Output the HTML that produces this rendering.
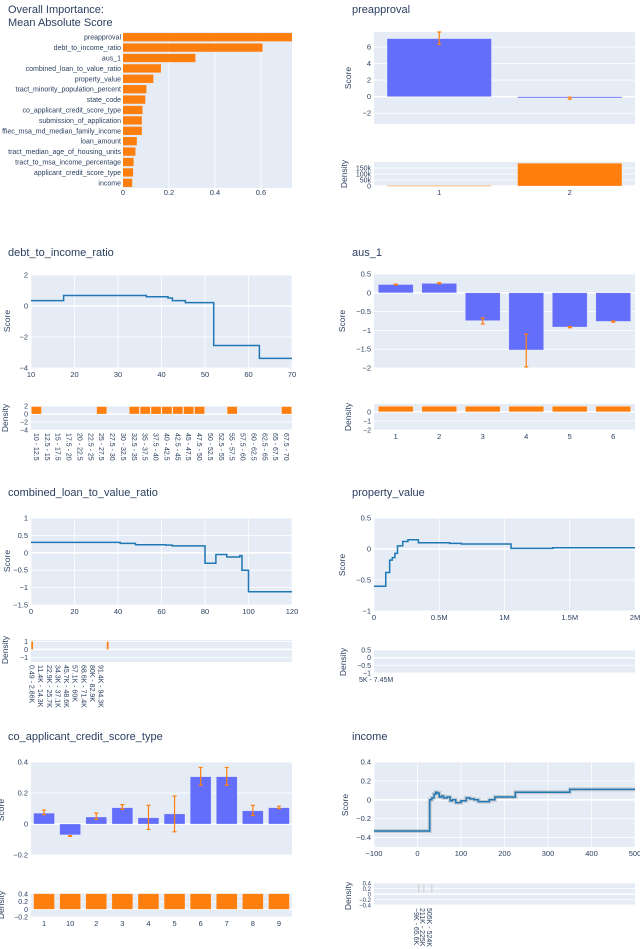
<!DOCTYPE html>
<html><head><meta charset="utf-8">
<style>
body{margin:0;background:#fff;}
svg{display:block;font-family:"Liberation Sans","DejaVu Sans",sans-serif;}
</style></head>
<body>
<svg id="c" width="640" height="949" viewBox="0 0 640 949" xmlns="http://www.w3.org/2000/svg"></svg>
<script>
// ---------- DATA ----------
const impFeatures=["preapproval","debt_to_income_ratio","aus_1","combined_loan_to_value_ratio","property_value","tract_minority_population_percent","state_code","co_applicant_credit_score_type","submission_of_application","ffiec_msa_md_median_family_income","loan_amount","tract_median_age_of_housing_units","tract_to_msa_income_percentage","applicant_credit_score_type","income"];
const impValues=[0.735,0.607,0.315,0.165,0.132,0.102,0.097,0.085,0.082,0.082,0.06,0.054,0.046,0.044,0.04];
const impTicks=[0,0.2,0.4,0.6];

const preCats=["1","2"];
const preScores=[7.0,-0.15];
const preErrLo=[6.3,-0.3];
const preErrHi=[7.8,-0.05];
const preDensity=[4000,190000];
const preDensTicks=[0,50000,100000,150000];
const preDensLabels=["0","50k","100k","150k"];
const preScoreTicks=[-2,0,2,4,6];

const dtiEdges=[10,17.5,36.5,41.5,42.5,45.5,52,62.5,70];
const dtiValues=[0.35,0.68,0.6,0.52,0.35,0.22,-2.55,-3.38];
const dtiXTicks=[10,20,30,40,50,60,70];
const dtiYTicks=[-4,-2,0,2];
const dtiCats=["10 - 12.5","12.5 - 15","15 - 17.5","17.5 - 20","20 - 22.5","22.5 - 25","25 - 27.5","27.5 - 30","30 - 32.5","32.5 - 35","35 - 37.5","37.5 - 40","40 - 42.5","42.5 - 45","45 - 47.5","47.5 - 50","50 - 52.5","52.5 - 55","55 - 57.5","57.5 - 60","60 - 62.5","62.5 - 65","65 - 67.5","67.5 - 70"];
const dtiDensity=[1.85,0,0,0,0,0,1.85,0,0,1.85,1.85,1.85,1.85,1.85,1.85,1.85,0,0,1.85,0,0,0,0,1.85];
const dtiDensTicks=[-4,-2,0,2];

const ausCats=["1","2","3","4","5","6"];
const ausScores=[0.22,0.25,-0.74,-1.52,-0.91,-0.76];
const ausErrLo=[0.21,0.24,-0.83,-1.97,-0.93,-0.78];
const ausErrHi=[0.23,0.27,-0.67,-1.1,-0.9,-0.75];
const ausDensity=[0.6,0.6,0.6,0.6,0.6,0.6];
const ausYTicks=[-2,-1.5,-1,-0.5,0,0.5];
const ausDensTicks=[-2,-1,0];

const cltvEdges=[0,41,48,62,65,80,85,90,96,97,100,120];
const cltvValues=[0.3,0.27,0.23,0.22,0.2,-0.3,-0.05,-0.12,-0.08,-0.5,-1.12];
const cltvXTicks=[0,20,40,60,80,100,120];
const cltvYTicks=[-1.5,-1,-0.5,0,0.5,1];
const cltvDensIdx=[0,35];
const cltvDensity=[1,1];
const cltvCatLabels=["0.49 - 2.86K","11.4K - 14.3K","22.9K - 25.7K","34.3K - 37.1K","45.7K - 48.6K","57.1K - 60K","68.6K - 71.4K","80K - 82.9K","91.4K - 94.3K"];
const cltvDensTicks=[-1,0,1];

const pvEdges=[0,0.09,0.12,0.14,0.16,0.18,0.22,0.26,0.34,0.58,0.67,1.05,1.37,2.0];
const pvValues=[-0.6,-0.38,-0.18,-0.14,-0.07,0.05,0.12,0.15,0.1,0.09,0.08,0.01,0.02];
const pvXTicks=[0,0.5,1,1.5,2];
const pvXLabels=["0","0.5M","1M","1.5M","2M"];
const pvYTicks=[-1,-0.5,0,0.5];
const pvDensTicks=[-1,-0.5,0,0.5];

const coCats=["1","10","2","3","4","5","6","7","8","9"];
const coScores=[0.07,-0.07,0.045,0.105,0.04,0.065,0.305,0.305,0.085,0.105];
const coErrLo=[0.06,-0.08,0.03,0.095,-0.035,-0.05,0.25,0.25,0.055,0.1];
const coErrHi=[0.09,-0.075,0.07,0.125,0.12,0.18,0.365,0.365,0.12,0.115];
const coDensity=[0.4,0.4,0.4,0.4,0.4,0.4,0.4,0.4,0.4,0.4];
const coYTicks=[-0.2,0,0.2,0.4];
const coDensTicks=[-0.2,0,0.2,0.4];

const incEdges=[-100,28,33,38,42,45,50,55,60,68,75,80,88,100,112,120,130,140,165,178,225,350,500];
const incValues=[-0.33,0.0,0.02,0.06,0.08,0.07,0.03,0.04,0.02,0.03,-0.01,0.0,-0.03,-0.01,0.02,0.01,0.0,-0.02,0.0,0.03,0.08,0.11];
const incXTicks=[-100,0,100,200,300,400,500];
const incYTicks=[-0.4,-0.2,0,0.2,0.4];
const incDensLabels=["−9K - 65.6K","211K - 225K","505K - 524K"];
const incDensTicks=[-0.4,-0.2,0,0.2,0.4];

// ---------- HELPERS ----------
const NS="http://www.w3.org/2000/svg";
const svg=document.getElementById('c');
const TXT="#2a3f5f", BG="#E5ECF6", BLUE="#636efa", ORANGE="#ff7f0e", LINE="#1f77b4";
function el(tag,attrs,parent){const e=document.createElementNS(NS,tag);for(const k in attrs)e.setAttribute(k,attrs[k]);(parent||svg).appendChild(e);return e;}
function lin(d0,d1,r0,r1){return v=>r0+(v-d0)*(r1-r0)/(d1-d0);}
function fmt(v){return (v<0?"−":"")+String(Math.abs(Math.round(v*100)/100));}
function txt(x,y,s,size,anchor,name,parent){const t=el('text',{x:x,y:y,'font-size':size,fill:TXT,'text-anchor':anchor||'start'},parent);t.textContent=s;return t;}
function panel(x0,y0,x1,y1,name){const g=el('g',{});el('rect',{x:x0,y:y0,width:x1-x0,height:y1-y0,fill:BG},g);return g;}
function yAxis(g,sy,ticks,x0,x1,labels,size){ticks.forEach((t,i)=>{const y=sy(t);el('line',{x1:x0,x2:x1,y1:y,y2:y,stroke:'#fff','stroke-width':t===0?1.6:0.8},g);txt(x0-3,y+2.5,labels?labels[i]:fmt(t),size||7.5,'end','y-tick-label',g);});}
function xAxis(g,sx,ticks,y0,y1,labels){ticks.forEach((t,i)=>{const x=sx(t);el('line',{x1:x,x2:x,y1:y0,y2:y1,stroke:'#fff','stroke-width':0.8},g);txt(x,y1+9,labels?labels[i]:fmt(t),7.5,'middle','x-tick-label',g);});}
function ytitle(x,y,s){const t=el('text',{x:0,y:0,'font-size':8.5,fill:TXT,'text-anchor':'middle',transform:`translate(${x},${y}) rotate(-90)`});t.textContent=s;}
function title(x,y,s,name){txt(x,y,s,11,'start',name||'chart-title');}
function steps(g,edges,vals,sx,sy,name,band){let d=`M${sx(edges[0])},${sy(vals[0])}`;for(let i=0;i<vals.length;i++){d+=` H${sx(edges[i+1])}`;if(i+1<vals.length)d+=` V${sy(vals[i+1])}`;}
 if(band){const b=el('path',{d:d,fill:'none',stroke:'rgba(140,140,140,0.35)','stroke-width':4},g);}
 const p=el('path',{d:d,fill:'none',stroke:LINE,'stroke-width':1.5},g);}
function bars(g,n,vals,x0,x1,sy,color,frac,name){const w=(x1-x0)/n;vals.forEach((v,i)=>{if(v===0)return;const cx=x0+w*(i+0.5),bw=w*frac;const y=Math.min(sy(v),sy(0)),h=Math.abs(sy(v)-sy(0));const r=el('rect',{x:cx-bw/2,y:y,width:bw,height:Math.max(h,0.8),fill:color,stroke:'rgba(255,255,255,0.5)','stroke-width':0.5},g);});}
function errs(g,n,lo,hi,x0,x1,sy){const w=(x1-x0)/n;lo.forEach((l,i)=>{const cx=x0+w*(i+0.5);const e=el('path',{d:`M${cx},${sy(l)}V${sy(hi[i])}M${cx-2},${sy(l)}H${cx+2}M${cx-2},${sy(hi[i])}H${cx+2}`,stroke:ORANGE,'stroke-width':1.2,fill:'none'},g);});}
function catLabels(g,n,labels,x0,x1,y,rot,idx){const w=(x1-x0)/n;labels.forEach((s,i)=>{const k=idx?idx[i]:i;const cx=x0+w*(k+0.5);if(rot){const t=el('text',{x:0,y:0,'font-size':7,fill:TXT,transform:`translate(${cx-2.5},${y}) rotate(90)`},g);t.textContent=s;}else txt(cx,y+9,s,7.5,'middle','category-label',g);});}

// ---------- OVERALL IMPORTANCE ----------
title(8,13,"Overall Importance:","importance-title");
title(8,26,"Mean Absolute Score","importance-subtitle");
(function(){const x0=123,x1=292,y0=32,y1=188;const g=panel(x0,y0,x1,y1,'importance-chart');const sx=lin(0,0.735,x0,x1);
 impTicks.forEach(t=>{if(t>0)el('line',{x1:sx(t),x2:sx(t),y1:y0,y2:y1,stroke:'#fff','stroke-width':0.8},g);txt(sx(t),y1+7,fmt(t),7.5,'middle','x-tick-label',g);});
 const rh=(y1-y0)/impFeatures.length;
 impFeatures.forEach((f,i)=>{const cy=y0+rh*(i+0.5);const r=el('rect',{x:x0,y:cy-rh*0.4,width:sx(impValues[i])-x0,height:rh*0.8,fill:ORANGE},g);txt(x0-2,cy+2.5,f,7,'end','feature-label',g);});
})();

// ---------- PREAPPROVAL ----------
title(352,13,"preapproval","preapproval-title");
(function(){const x0=374,x1=635,y0=32,y1=124;const g=panel(x0,y0,x1,y1,'preapproval-score-chart');const sy=lin(7.8,-3.3,y0,y1);
 yAxis(g,sy,preScoreTicks,x0,x1);bars(g,2,preScores,x0,x1,sy,BLUE,0.8,'preapproval-bar');errs(g,2,preErrLo,preErrHi,x0,x1,sy);ytitle(351,78,"Score");
 const d0=162,d1=186;const gd=panel(x0,d0,x1,d1,'preapproval-density-chart');const sd=lin(200000,0,d0,d1);
 yAxis(gd,sd,preDensTicks,x0,x1,preDensLabels,7);bars(gd,2,preDensity,x0,x1,sd,ORANGE,0.8,'preapproval-density-bar');catLabels(gd,2,preCats,x0,x1,d1);ytitle(347,174,"Density");
})();

// ---------- DEBT TO INCOME ----------
title(8,256,"debt_to_income_ratio","dti-title");
(function(){const x0=31,x1=292,y0=275,y1=368;const g=panel(x0,y0,x1,y1,'dti-score-chart');const sx=lin(10,70,x0,x1),sy=lin(2,-4,y0,y1);
 xAxis(g,sx,dtiXTicks,y0,y1);yAxis(g,sy,dtiYTicks,x0,x1);steps(g,dtiEdges,dtiValues,sx,sy,'dti-score-line');ytitle(10,321,"Score");
 const d0=406,d1=430;const gd=panel(x0,d0,x1,d1,'dti-density-chart');const sd=lin(2,-4,d0,d1);
 yAxis(gd,sd,dtiDensTicks,x0,x1,null,7);bars(gd,24,dtiDensity,x0,x1,sd,ORANGE,0.92,'dti-density-bar');catLabels(gd,24,dtiCats,x0,x1,d1+3,true);ytitle(8,418,"Density");
})();

// ---------- AUS_1 ----------
title(352,256,"aus_1","aus-title");
(function(){const x0=374,x1=635,y0=274,y1=368;const g=panel(x0,y0,x1,y1,'aus-score-chart');const sy=lin(0.5,-2,y0,y1);
 yAxis(g,sy,ausYTicks,x0,x1);bars(g,6,ausScores,x0,x1,sy,BLUE,0.8,'aus-bar');errs(g,6,ausErrLo,ausErrHi,x0,x1,sy);ytitle(345,321,"Score");
 const d0=404,d1=430;const gd=panel(x0,d0,x1,d1,'aus-density-chart');const sd=lin(0.85,-2,d0,d1);
 yAxis(gd,sd,ausDensTicks,x0,x1,null,7);bars(gd,6,ausDensity,x0,x1,sd,ORANGE,0.8,'aus-density-bar');catLabels(gd,6,ausCats,x0,x1,d1);ytitle(351,417,"Density");
})();

// ---------- COMBINED LOAN TO VALUE ----------
title(8,496,"combined_loan_to_value_ratio","cltv-title");
(function(){const x0=31,x1=292,y0=518,y1=605;const g=panel(x0,y0,x1,y1,'cltv-score-chart');const sx=lin(0,120,x0,x1),sy=lin(1,-1.5,y0,y1);
 xAxis(g,sx,cltvXTicks,y0,y1);yAxis(g,sy,cltvYTicks,x0,x1);steps(g,cltvEdges,cltvValues,sx,sy,'cltv-score-line');ytitle(10,561,"Score");
 const d0=640,d1=662;const gd=panel(x0,d0,x1,d1,'cltv-density-chart');const sd=lin(1.2,-1.6,d0,d1);
 yAxis(gd,sd,cltvDensTicks,x0,x1,null,7);const n=121,w=(x1-x0)/n;
 cltvDensIdx.forEach((k,i)=>{const r=el('rect',{x:x0+w*k+0.3,y:sd(cltvDensity[i]),width:w*0.8,height:sd(0)-sd(cltvDensity[i]),fill:ORANGE},gd);});
 catLabels(gd,n,cltvCatLabels,x0,x1,d1+3,true,[0,4,8,12,16,20,24,28,32]);ytitle(8,650,"Density");
})();

// ---------- PROPERTY VALUE ----------
title(352,496,"property_value","property-value-title");
(function(){const x0=374,x1=635,y0=518,y1=611;const g=panel(x0,y0,x1,y1,'property-score-chart');const sx=lin(0,2,x0,x1),sy=lin(0.5,-1,y0,y1);
 xAxis(g,sx,pvXTicks,y0,y1,pvXLabels);yAxis(g,sy,pvYTicks,x0,x1);steps(g,pvEdges,pvValues,sx,sy,'property-score-line');ytitle(345,565,"Score");
 const d0=650,d1=673;const gd=panel(x0,d0,x1,d1,'property-density-chart');const sd=lin(0.5,-1,d0,d1);
 yAxis(gd,sd,pvDensTicks,x0,x1,null,7);txt(359,682,"5K - 7.45M",7,'start','category-label',gd);ytitle(346,662,"Density");
})();

// ---------- CO-APPLICANT ----------
title(8,740,"co_applicant_credit_score_type","co-applicant-title");
(function(){const x0=31,x1=292,y0=762,y1=855;const g=panel(x0,y0,x1,y1,'co-applicant-score-chart');const sy=lin(0.4,-0.2,y0,y1);
 yAxis(g,sy,coYTicks,x0,x1);bars(g,10,coScores,x0,x1,sy,BLUE,0.8,'co-applicant-bar');errs(g,10,coErrLo,coErrHi,x0,x1,sy);ytitle(4,810,"Score");
 const d0=893,d1=917;const gd=panel(x0,d0,x1,d1,'co-applicant-density-chart');const sd=lin(0.42,-0.2,d0,d1);
 yAxis(gd,sd,coDensTicks,x0,x1,null,7);bars(gd,10,coDensity,x0,x1,sd,ORANGE,0.8,'co-applicant-density-bar');catLabels(gd,10,coCats,x0,x1,d1);ytitle(4,905,"Density");
})();

// ---------- INCOME ----------
title(352,740,"income","income-title");
(function(){const x0=374,x1=635,y0=762,y1=847;const g=panel(x0,y0,x1,y1,'income-score-chart');const sx=lin(-100,500,x0,x1),sy=lin(0.4,-0.5,y0,y1);
 xAxis(g,sx,incXTicks,y0,y1);yAxis(g,sy,incYTicks,x0,x1);steps(g,incEdges,incValues,sx,sy,'income-score-line',true);ytitle(348,805,"Score");
 const d0=883,d1=905;const gd=panel(x0,d0,x1,d1,'income-density-chart');const sd=lin(0.4,-0.4,d0,d1);
 yAxis(gd,sd,incDensTicks,x0,x1,null,6);
 [418,423,431].forEach((x,i)=>{const r=el('rect',{x:x,y:d0+1,width:1.5,height:9,fill:'#d8d8d8'},gd);});
 incDensLabels.forEach((s,i)=>{const t=el('text',{x:0,y:0,'font-size':7,fill:TXT,transform:`translate(${[414,420,427][i]},${d1+3}) rotate(90)`},gd);t.textContent=s;});
 ytitle(351,896,"Density");
})();
</script>
</body></html>
